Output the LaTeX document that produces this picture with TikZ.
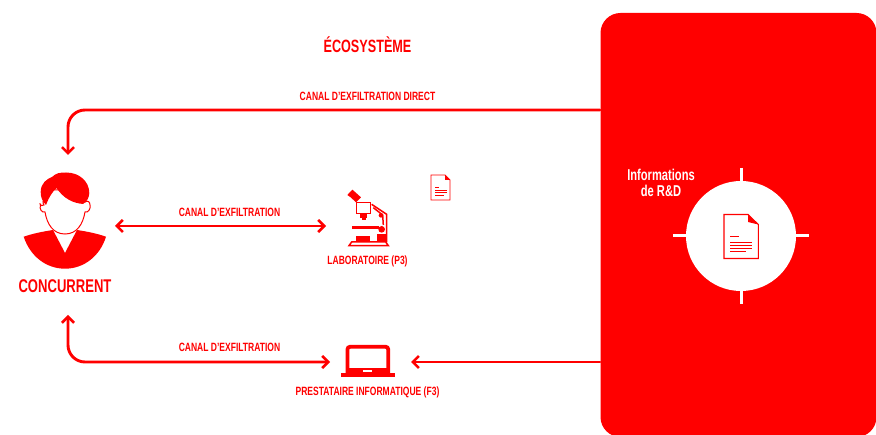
\documentclass[tikz,border=0pt]{standalone}
\usepackage{fontspec}
\setmainfont[FakeStretch=0.71,BoldFont={Liberation Sans Bold}]{Liberation Sans}
\usetikzlibrary{arrows.meta}
\definecolor{rd}{RGB}{255,0,0}
\tikzset{
  x=1pt,y=-1pt,
  conn/.style={draw=rd,line width=2.9pt,line cap=round,rounded corners=17pt},
  lab/.style={text=rd,font=\bfseries\fontsize{12pt}{12pt}\selectfont,inner sep=0pt,align=center},
  anchorbox/.style={inner sep=0pt,outer sep=0pt,draw=none},
  wtick/.style={draw=white,line width=3pt},
  docline/.style={draw=rd,line width=1pt},
}
\begin{document}
\begin{tikzpicture}
\useasboundingbox (0,0) rectangle (876,435);
\fill[white] (0,0) rectangle (876,435);
% panel
\node[anchorbox,fill=rd,rounded corners=20pt,minimum width=276pt,minimum height=424pt] (panel) at (738.5,225) {};
% anchors
\node[anchorbox,minimum width=94pt,minimum height=160pt] (concurrent) at (68,235) {};
\node[anchorbox,minimum width=82pt,minimum height=70pt] (labo) at (367,226) {};
\node[anchorbox,minimum width=81pt,minimum height=36pt] (presta) at (370.5,362) {};
\coordinate (ptop) at (600,110);
\coordinate (pbot) at (600,362);
% connectors
\draw[conn,-{Straight Barb[length=6pt,width=12pt,line width=2.6pt]}] (ptop) -| (concurrent.north);
\draw[conn,{Straight Barb[length=6pt,width=12pt,line width=2.6pt]}-{Straight Barb[length=6pt,width=12pt,line width=2.6pt]}] (concurrent.east |- labo.west) -- (labo.west);
\draw[conn,{Straight Barb[length=6pt,width=12pt,line width=2.6pt]}-{Straight Barb[length=6pt,width=12pt,line width=2.6pt]}] (concurrent.south) |- (presta.west);
\draw[conn,-{Straight Barb[length=6pt,width=12pt,line width=2.6pt]}] (pbot) -- (presta.east);
% texts
\node[text=rd,font=\bfseries\fontsize{17.8pt}{18pt}\selectfont,inner sep=0pt] (titre) at (367.5,45) {ÉCOSYSTÈME};
\node[lab] (l1) at (367.5,96) {CANAL D'EXFILTRATION DIRECT};
\node[lab] (l2) at (229.5,212.5) {CANAL D'EXFILTRATION};
\node[lab] (l3) at (229.5,347.5) {CANAL D'EXFILTRATION};
\node[lab] (l4) at (367.5,261) {LABORATOIRE (P3)};
\node[lab] (l5) at (367.5,392) {PRESTATAIRE INFORMATIQUE (F3)};
\node[text=rd,font=\bfseries\fontsize{18.4pt}{19pt}\selectfont,inner sep=0pt] (l6) at (65,286) {CONCURRENT};
\node[text=white,font=\bfseries\fontsize{15.7pt}{15.5pt}\selectfont,inner sep=0pt,align=center] (l7) at (661,183) {Informations\\de R\&D};
% person
\fill[rd] (23.7,236.7) .. controls (33,233.5) and (43,231.5) .. (53,230) -- (65,253) -- (77,230) .. controls (87,231.5) and (97,233.5) .. (106,236.7) .. controls (100,256) and (84,268.7) .. (65,268.7) .. controls (46,268.7) and (30,256) .. (23.7,236.7) -- cycle;
\draw[rd,line width=1pt,fill=white] (44,205) .. controls (40,208) and (39,200) .. (40.5,205) .. controls (39,209) and (42,213) .. (45,212) .. controls (47,224) and (53,234) .. (65,234) .. controls (77,234) and (83,224) .. (85,212) .. controls (88,213) and (91,209) .. (90,205) .. controls (90,202) and (88,200) .. (85,202) -- (85,190) -- (45,190) -- (45,202) .. controls (43,201) and (42,202) .. (44,205) -- cycle;
\fill[rd] (46,205) .. controls (42,201) and (40.7,197) .. (40.7,192) .. controls (40.7,183) and (47,179) .. (52,177) .. controls (56,173) and (60,172.5) .. (66,172.5) .. controls (80,172.5) and (89.3,182) .. (89.3,193) .. controls (89.3,197) and (87,202) .. (83,204) .. controls (73,203) and (64,199) .. (56.5,188) .. controls (53,191) and (49,197) .. (46,205) -- cycle;
% microscope
\begin{scope}[shift={(320,165)},x=0.3333pt,y=-0.3333pt]
\fill[rd] (82,90) -- (97,74) -- (104,80) -- (123,97) -- (108,112) -- (92,97) -- cycle;
\draw[rd,line width=1.5pt,fill=white] (110,112) -- (152,112) -- (152,145) -- (110,145) -- cycle;
\fill[rd] (120,145) rectangle (142,158);
\fill[rd] (127,158) rectangle (137,165);
\draw[rd,line width=1.5pt] (155,118) -- (200,148) -- (200,232);
\draw[rd,line width=1.5pt] (160,128) -- (188,150) -- (190,180);
\fill[rd] (183,151) circle (7);
\fill[rd] (185,193) circle (10);
\fill[rd] (96,184) rectangle (178,192);
\fill[rd] (108,212) rectangle (150,230);
\fill[rd] (170,208) rectangle (200,232);
\draw[rd,line width=1.5pt] (87,242) -- (95,231) -- (197,231) -- (205,242) -- cycle;
\end{scope}
% small document
\draw[rd,line width=0.9pt,fill=white] (431,175) -- (445,175) -- (450,180) -- (450,200) -- (431,200) -- cycle;
\fill[rd] (445,175) -- (450,180) -- (445,180) -- cycle;
\draw[docline,line width=0.7pt] (435,187.5) -- (439,187.5);
\draw[docline] (435,190.5) -- (447,190.5) (435,193) -- (447,193) (435,195.5) -- (444,195.5);
% target
\node[anchorbox,circle,fill=white,minimum size=110pt] (cible) at (741,236) {};
\draw[wtick] (741,168) -- (741,182);
\draw[wtick] (741,290) -- (741,304);
\draw[wtick] (673,236) -- (687,236);
\draw[wtick] (795,236) -- (809,236);
% large document
\draw[rd,line width=1.1pt,fill=white] (724,214.5) -- (748,214.5) -- (758.3,224.5) -- (758.3,258.5) -- (724,258.5) -- cycle;
\fill[rd] (748,214.5) -- (758.3,224.5) -- (748,222) -- cycle;
\draw[docline,line width=0.7pt] (730,236) -- (739,236);
\draw[docline,line width=0.8pt] (730,242.5) -- (752,242.5) (730,245.5) -- (752,245.5) (730,248.5) -- (752,248.5) (730,251.5) -- (746,251.5);
% laptop
\draw[rd,line width=3.8pt,fill=white,rounded corners=2.5pt] (347.5,373) -- (347.5,346.8) -- (388.2,346.8) -- (388.2,373);
\fill[rd] (340.7,373) rectangle (395,377);
\fill[rd] (346,368.5) rectangle (390,373.5);
\fill[white] (363,370.5) rectangle (372,372.2);
\end{tikzpicture}
\end{document}
